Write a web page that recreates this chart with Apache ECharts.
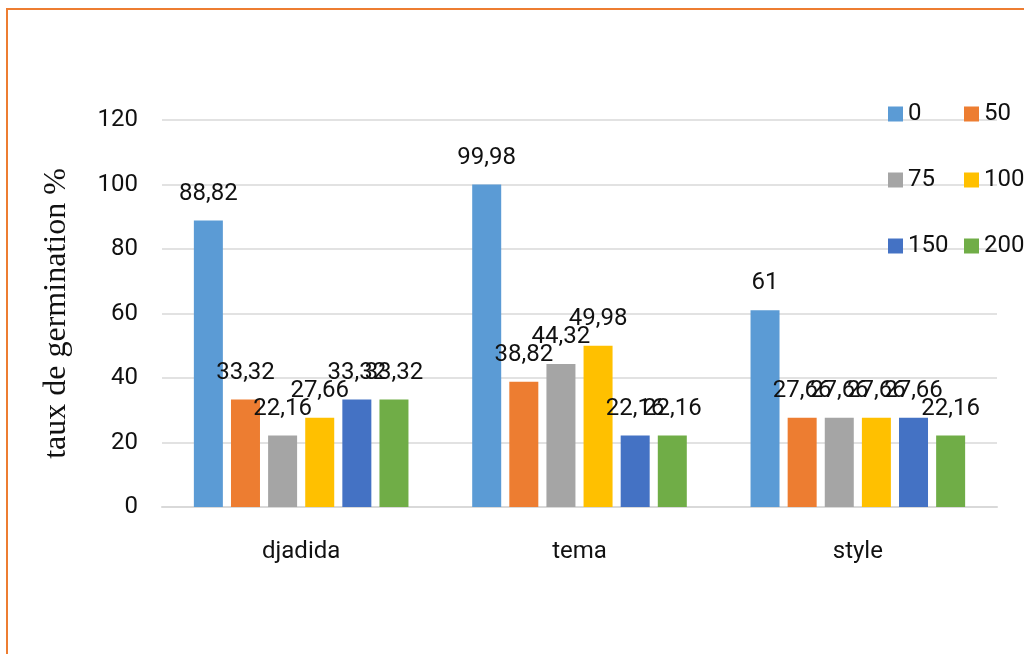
<!DOCTYPE html>
<html>
<head>
<meta charset="utf-8">
<script src="https://cdn.jsdelivr.net/npm/echarts@6/dist/echarts.min.js"></script>
<style>
  html, body { margin: 0; padding: 0; background: #ffffff; }
  #chart { width: 1024px; height: 654px; }
</style>
</head>
<body>
<div id="chart"></div>
<script>
// Germination rate (%) per variety for each treatment level
const varieties = ['djadida', 'tema', 'style'];
const levels = ['0', '50', '75', '100', '150', '200'];
const rate0   = [88.82, 99.98, 61];
const rate50  = [33.32, 38.82, 27.66];
const rate75  = [22.16, 44.32, 27.66];
const rate100 = [27.66, 49.98, 27.66];
const rate150 = [33.32, 22.16, 27.66];
const rate200 = [33.32, 22.16, 22.16];
const yTicks = { min: 0, max: 120, step: 20 };

const seriesValues = [rate0, rate50, rate75, rate100, rate150, rate200];
const palette = ['#5B9BD5', '#ED7D31', '#A5A5A5', '#FFC000', '#4472C4', '#70AD47'];
const numFont = 'Roboto';

const chart = echarts.init(document.getElementById('chart'), null, { renderer: 'canvas' });

const series = levels.map((name, i) => ({
  name: name,
  type: 'bar',
  data: seriesValues[i],
  barWidth: 29,
  barGap: '28%',
  itemStyle: { color: palette[i] },
  label: {
    show: true,
    position: 'top',
    distance: 15,
    color: '#111',
    fontFamily: numFont,
    fontSize: 24,
    formatter: p => String(p.value).replace('.', ',')
  }
}));

const legendCommon = {
  orient: 'vertical',
  icon: 'rect',
  padding: 0,
  itemWidth: 15,
  itemHeight: 15,
  itemGap: 42,
  textStyle: { color: '#111', fontFamily: numFont, fontSize: 24 },
  selectedMode: false
};

chart.setOption({
  backgroundColor: '#ffffff',
  animation: false,
  graphic: [{
    type: 'rect',
    shape: { x: 7, y: 9, width: 1100, height: 700 },
    style: { fill: 'none', stroke: '#ED7D31', lineWidth: 2 },
    silent: true
  }],
  legend: [
    Object.assign({ data: ['0', '75', '150'], left: 888, top: 102 }, legendCommon),
    Object.assign({ data: ['50', '100', '200'], left: 964, top: 102 }, legendCommon)
  ],
  grid: { left: 162, right: 27, top: 120, bottom: 147, containLabel: false },
  xAxis: {
    type: 'category',
    data: varieties,
    axisLine: { show: true, lineStyle: { color: '#D9D9D9', width: 2 } },
    axisTick: { show: false },
    axisLabel: { color: '#111', fontFamily: numFont, fontSize: 24, margin: 33 }
  },
  yAxis: {
    type: 'value',
    min: yTicks.min,
    max: yTicks.max,
    interval: yTicks.step,
    name: 'taux de germination %',
    nameLocation: 'middle',
    nameGap: 89,
    nameTextStyle: { color: '#111', fontFamily: 'Liberation Serif', fontSize: 32 },
    axisLine: { show: false },
    axisTick: { show: false },
    axisLabel: { color: '#111', fontFamily: numFont, fontSize: 24, margin: 24 },
    splitLine: { lineStyle: { color: '#D9D9D9', width: 1.5 } }
  },
  series: series
});
</script>
</body>
</html>
